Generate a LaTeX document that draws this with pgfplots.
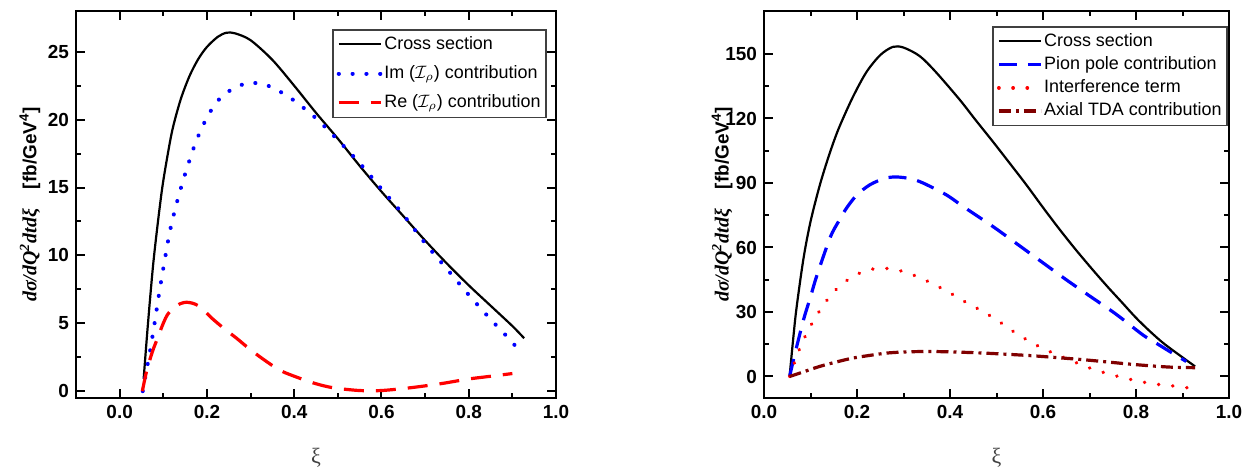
\documentclass[border=0pt]{standalone}
\usepackage{fontspec}
\setmainfont{Liberation Sans}
\newfontfamily\timesf{Liberation Serif}
\usepackage{pgfplots}
\pgfplotsset{compat=1.18}

\definecolor{tdared}{RGB}{128,0,0}

\pgfplotsset{
  panel/.style={
    scale only axis,
    height=193.5bp,
    axis line style={line width=1.3bp},
    every tick/.style={black, line width=1bp},
    tick align=inside,
    major tick length=4.5bp,
    minor tick length=2.5bp,
    minor x tick num=1,
    minor y tick num=1,
    tick label style={font=\bfseries\fontsize{9.5}{11}\selectfont},
    /pgf/number format/assume math mode=true,
    xtick={0,0.2,0.4,0.6,0.8,1.0},
    xticklabels={0.0,0.2,0.4,0.6,0.8,1.0},
    xmax=1.0,
    xlabel={\timesf\fontsize{11}{12}\selectfont ξ},
    xlabel style={at={(axis description cs:0.5,-0.155)}, anchor=center, text=black!75},
    legend cell align=left,
    legend image code/.code={\draw[#1] (0bp,0bp) -- (21bp,0bp);},
    legend style={draw=black!75, line width=0.8bp, inner xsep=2bp, inner ysep=2bp,
      font=\fontsize{9}{10}\selectfont,
      nodes={inner sep=0.8bp, text height=7bp, text depth=2bp}},
  },
  ylab/.style={
    ylabel={{\timesf\bfseries\itshape\fontsize{10}{12}\selectfont dσ/dQ\textsuperscript{2}dtdξ}\quad{\bfseries\fontsize{9.5}{11}\selectfont [fb/GeV\textsuperscript{4}]}},
  },
}

\begin{document}
\begin{tikzpicture}
\path[use as bounding box] (0bp,0bp) rectangle (627bp,238bp);

% ---------------- left panel: Im / Re decomposition ----------------
\begin{axis}[panel, ylab,
  at={(38bp,39bp)}, anchor=south west,
  width=240bp,
  xmin=-0.1, ymin=-0.5, ymax=28,
  ytick={0,5,10,15,20,25},
  ylabel style={at={(axis description cs:-0.096,0.5)}, anchor=center},
  legend style={at={(1,1)}, anchor=north east, xshift=-4.5bp, yshift=-9bp, row sep=4bp},
]
\addplot[black, line width=1.1bp, smooth, tension=0.5] coordinates {
 (0.055,0.9) (0.065,5.0) (0.078,9.7) (0.096,14.6) (0.110,17.4) (0.122,19.4)
 (0.140,21.5) (0.160,23.2) (0.180,24.45) (0.200,25.35) (0.225,26.1) (0.245,26.4)
 (0.265,26.35) (0.300,25.85) (0.350,24.4) (0.400,22.5) (0.450,20.5) (0.500,18.6)
 (0.550,16.6) (0.600,14.7) (0.650,12.9) (0.700,11.1) (0.750,9.4) (0.800,7.8)
 (0.850,6.3) (0.900,4.8) (0.927,3.9)};
\addlegendentry{Cross section}
\addplot[blue, line width=2bp, line cap=round, dash pattern=on 0.1bp off 6.8bp, smooth, tension=0.5] coordinates {
 (0.053,0) (0.062,1.6) (0.070,3.0) (0.080,5.0) (0.090,7.1) (0.103,9.6)
 (0.116,11.9) (0.132,14.0) (0.151,16.1) (0.174,18.3) (0.190,19.5) (0.206,20.5)
 (0.231,21.6) (0.266,22.4) (0.300,22.7) (0.330,22.6) (0.360,22.2) (0.400,21.4)
 (0.450,20.1) (0.500,18.5) (0.550,16.8) (0.600,14.9) (0.650,13.0) (0.700,10.9)
 (0.750,9.0) (0.800,7.1) (0.850,5.3) (0.900,3.6) (0.921,2.7)};
\addlegendentry{Im ($\mathcal{I}_\rho$) contribution}
\addplot[red, line width=1.6bp, dash pattern=on 10bp off 6bp, smooth, tension=0.5] coordinates {
 (0.052,0) (0.062,1.5) (0.075,2.9) (0.088,4.0) (0.100,5.0) (0.111,5.7)
 (0.130,6.3) (0.153,6.55) (0.180,6.3) (0.214,5.3) (0.240,4.6) (0.268,3.9)
 (0.300,3.05) (0.336,2.2) (0.370,1.5) (0.413,0.95) (0.450,0.55) (0.490,0.25)
 (0.550,0.05) (0.600,0.05) (0.665,0.25) (0.735,0.55) (0.800,0.9) (0.850,1.1)
 (0.900,1.3)};
\addlegendentry{Re ($\mathcal{I}_\rho$) contribution}
\end{axis}

% ---------------- right panel: pion pole / TDA decomposition ----------------
\begin{axis}[panel, ylab,
  at={(382bp,39bp)}, anchor=south west,
  width=232.5bp,
  xmin=0, ymin=-10, ymax=170,
  ytick={0,30,60,90,120,150},
  ylabel style={at={(axis description cs:-0.09,0.5)}, anchor=center},
  legend style={at={(1,1)}, anchor=north east, xshift=-0.5bp, yshift=-7.5bp, row sep=1bp},
]
\addplot[black, line width=1.1bp, smooth, tension=0.5] coordinates {
 (0.055,0) (0.063,18) (0.070,32) (0.085,55) (0.100,72) (0.120,89) (0.140,103)
 (0.160,115) (0.190,129.5) (0.220,141.5) (0.250,149.5) (0.277,153.3) (0.300,153)
 (0.335,149) (0.370,141.5) (0.421,128.7) (0.455,119.3) (0.492,109.3) (0.528,99.3)
 (0.564,89.2) (0.600,78.6) (0.635,68.6) (0.670,59.1) (0.707,49.6) (0.739,41.7)
 (0.770,34.4) (0.800,27.3) (0.830,21.0) (0.860,15.3) (0.900,8.9) (0.927,4.7)};
\addlegendentry{Cross section}
\addplot[blue, line width=1.6bp, dash pattern=on 9bp off 5.5bp, smooth, tension=0.5] coordinates {
 (0.055,0) (0.067,11) (0.085,26.4) (0.100,37) (0.113,46.5) (0.142,64.5)
 (0.160,72) (0.178,78.5) (0.200,84.5) (0.228,89.2) (0.260,92.2) (0.285,92.8)
 (0.315,92) (0.342,90) (0.392,84.5) (0.428,79.1) (0.492,69.8) (0.542,62)
 (0.596,53.5) (0.650,45) (0.700,37.5) (0.757,29) (0.815,19.3) (0.845,15.3)
 (0.872,11.7) (0.908,7.0)};
\addlegendentry{Pion pole contribution}
\addplot[red, line width=1.8bp, line cap=round, dash pattern=on 0.1bp off 7bp, smooth, tension=0.5] coordinates {
 (0.055,0) (0.077,13.2) (0.092,20.2) (0.110,27.2) (0.131,34.2) (0.156,40.7)
 (0.189,46.3) (0.221,49.3) (0.249,50.4) (0.280,49.8) (0.310,48.1) (0.342,45.3)
 (0.374,41.9) (0.403,38.5) (0.435,34.4) (0.467,30.7) (0.500,26.4) (0.544,19.8)
 (0.576,15.8) (0.604,12.6) (0.665,7.0) (0.697,4.2) (0.730,1.9) (0.762,0)
 (0.791,-1.5) (0.823,-2.9) (0.852,-3.8) (0.884,-4.5) (0.916,-5.4)};
\addlegendentry{Interference term}
\addplot[tdared, line width=1.6bp, dash pattern=on 6bp off 2.5bp on 1.5bp off 2.5bp, smooth, tension=0.5] coordinates {
 (0.055,0) (0.080,1.8) (0.120,4.7) (0.160,7.0) (0.192,8.6) (0.230,9.9)
 (0.264,10.9) (0.300,11.4) (0.335,11.6) (0.370,11.6) (0.407,11.4) (0.450,11.1)
 (0.500,10.6) (0.580,9.6) (0.687,7.8) (0.795,5.6) (0.870,4.4) (0.927,4.1)};
\addlegendentry{Axial TDA contribution}
\end{axis}
\end{tikzpicture}
\end{document}
